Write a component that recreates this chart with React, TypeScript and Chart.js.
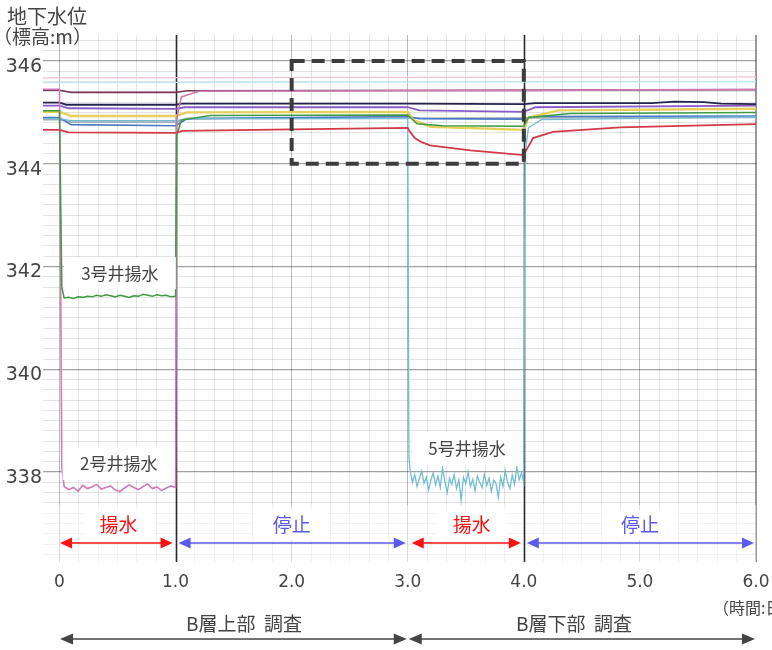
import React, { useEffect, useRef } from 'react';
import { Chart, registerables } from 'chart.js';

Chart.register(...registerables);

type Pt = [number, number];

// ---------- axis ticks ----------
const xTickValues = [0, 1, 2, 3, 4, 5, 6];
const xTickLabels = ['0', '1.0', '2.0', '3.0', '4.0', '5.0', '6.0'];
const yTickValues = [338, 340, 342, 344, 346];
const yTickLabels = ['338', '340', '342', '344', '346'];

// ---------- pumping periods (noisy records) ----------
const pumpTimesEarly = [0.04, 0.08, 0.12, 0.16, 0.2, 0.24, 0.28, 0.32, 0.36, 0.4, 0.44, 0.48, 0.52, 0.56, 0.6, 0.64, 0.68, 0.72, 0.76, 0.8, 0.84, 0.88, 0.92, 0.96, 1.0];
const well2PumpLevels = [337.72, 337.66, 337.7, 337.63, 337.74, 337.68, 337.71, 337.76, 337.67, 337.7, 337.73, 337.65, 337.62, 337.69, 337.75, 337.7, 337.66, 337.72, 337.77, 337.68, 337.71, 337.64, 337.69, 337.73, 337.7];
const well3PumpLevels = [341.39, 341.4, 341.38, 341.41, 341.4, 341.42, 341.41, 341.44, 341.42, 341.45, 341.43, 341.41, 341.44, 341.42, 341.4, 341.43, 341.42, 341.46, 341.44, 341.42, 341.45, 341.43, 341.44, 341.41, 341.42];
const pumpTimesLate = [3.02, 3.04, 3.06, 3.08, 3.1, 3.12, 3.14, 3.16, 3.18, 3.2, 3.22, 3.24, 3.26, 3.28, 3.3, 3.32, 3.34, 3.36, 3.38, 3.4, 3.42, 3.44, 3.46, 3.48, 3.5, 3.52, 3.54, 3.56, 3.58, 3.6, 3.62, 3.64, 3.66, 3.68, 3.7, 3.72, 3.74, 3.76, 3.78, 3.8, 3.82, 3.84, 3.86, 3.88, 3.9, 3.92, 3.94, 3.96, 3.98, 4.0];
const well5PumpLevels = [338.05, 337.8, 337.95, 337.72, 337.88, 338.02, 337.78, 337.9, 337.65, 337.85, 337.98, 337.75, 337.92, 337.7, 338.08, 337.82, 337.6, 337.88, 337.76, 337.95, 337.68, 337.85, 337.45, 337.9, 337.78, 338.0, 337.72, 337.86, 337.64, 337.92, 337.8, 337.7, 337.96, 337.74, 337.88, 337.62, 337.84, 337.78, 337.5, 337.9, 337.72, 338.02, 337.8, 337.68, 337.94, 337.76, 338.1, 337.85, 337.98, 337.8];

// ---------- well 2 (pink) ----------
const well2Before: Pt[] = [[-0.142, 345.45], [0.0, 345.45], [0.02, 338.1]];
const well2After: Pt[] = [[1.01, 344.9], [1.05, 345.3], [1.2, 345.41], [3.0, 345.42], [4.0, 345.42], [5.0, 345.44], [6.0, 345.45]];
// ---------- well 3 (green) ----------
const well3Before: Pt[] = [[-0.142, 345.03], [0.0, 345.03], [0.02, 341.6]];
const well3After: Pt[] = [[1.01, 344.55], [1.05, 344.85], [1.3, 344.94], [3.0, 344.95], [3.08, 344.78], [3.3, 344.74], [4.0, 344.73], [4.04, 344.9], [4.4, 344.98], [6.0, 345.0]];
// ---------- well 5 (cyan) ----------
const well5Before: Pt[] = [[-0.142, 344.88], [0.0, 344.88], [0.1, 344.84], [1.0, 344.84], [1.1, 344.88], [3.0, 344.88], [3.01, 338.3]];
const well5After: Pt[] = [[4.01, 344.2], [4.04, 344.7], [4.15, 344.86], [6.0, 344.91]];

// ---------- observation wells ----------
const redLine: Pt[] = [[-0.142, 344.66], [0, 344.66], [0.08, 344.61], [1.0, 344.6], [1.06, 344.64], [2.0, 344.67], [3.0, 344.7], [3.02, 344.62], [3.06, 344.5], [3.12, 344.42], [3.19, 344.36], [3.54, 344.26], [4.0, 344.17], [4.01, 344.22], [4.03, 344.3], [4.08, 344.5], [4.25, 344.62], [4.83, 344.71], [6.0, 344.77]];
const navyLine: Pt[] = [[-0.142, 345.19], [0, 345.19], [0.06, 345.15], [1.0, 345.15], [1.06, 345.17], [3.0, 345.17], [4.0, 345.16], [4.1, 345.18], [5.1, 345.18], [5.3, 345.21], [5.55, 345.2], [5.7, 345.17], [6.0, 345.16]];
const purpleLine: Pt[] = [[-0.142, 345.13], [0, 345.13], [0.08, 345.08], [1.0, 345.07], [1.08, 345.1], [3.0, 345.1], [3.1, 345.04], [4.0, 345.01], [4.1, 345.1], [6.0, 345.13]];
const yellowLine: Pt[] = [[-0.142, 345.01], [0, 345.01], [0.1, 344.93], [1.0, 344.93], [1.1, 345.0], [3.0, 345.01], [3.05, 344.85], [3.2, 344.72], [4.0, 344.66], [4.04, 344.9], [4.3, 345.04], [6.0, 345.07]];
const blueLine: Pt[] = [[-0.142, 344.9], [0, 344.9], [0.1, 344.76], [1.0, 344.74], [1.1, 344.88], [3.0, 344.92], [3.1, 344.88], [4.0, 344.87], [4.1, 344.92], [6.0, 344.93]];
const grayLine: Pt[] = [[-0.142, 344.86], [0, 344.86], [0.1, 344.81], [1.0, 344.81], [1.1, 344.88], [6.0, 344.9]];
const maroonLine: Pt[] = [[-0.142, 345.43], [0, 345.43], [0.1, 345.39], [1.0, 345.39], [1.1, 345.42], [6.0, 345.44]];
const faintPinkLine: Pt[] = [[-0.142, 345.67], [6.0, 345.69]];
const faintCyanLine: Pt[] = [[-0.142, 345.58], [6.0, 345.6]];

const toXY = (pts: Pt[]) => pts.map(([x, y]) => ({ x, y }));
const zipXY = (t: number[], v: number[]) => t.map((x, i) => ({ x, y: v[i] }));

const isInt = (v: number) => Math.abs(v - Math.round(v)) < 1e-9;

const JP = "'Noto Sans CJK JP', 'Noto Sans', sans-serif";
const TXT = '#444444';
const MARKER = '#2a2a2a';

function drawArrow(ctx: CanvasRenderingContext2D, x1: number, x2: number, y: number, color: string, head = 12, half = 5.5, lw = 1.6) {
  ctx.save();
  ctx.strokeStyle = color;
  ctx.fillStyle = color;
  ctx.lineWidth = lw;
  ctx.beginPath();
  ctx.moveTo(x1 + head - 1, y);
  ctx.lineTo(x2 - head + 1, y);
  ctx.stroke();
  ctx.beginPath();
  ctx.moveTo(x1, y);
  ctx.lineTo(x1 + head, y - half);
  ctx.lineTo(x1 + head, y + half);
  ctx.closePath();
  ctx.fill();
  ctx.beginPath();
  ctx.moveTo(x2, y);
  ctx.lineTo(x2 - head, y - half);
  ctx.lineTo(x2 - head, y + half);
  ctx.closePath();
  ctx.fill();
  ctx.restore();
}

function boxedText(ctx: CanvasRenderingContext2D, text: string, cx: number, cy: number, w: number, h: number, color: string, size: number) {
  ctx.save();
  ctx.fillStyle = '#ffffff';
  ctx.fillRect(cx - w / 2, cy - h / 2, w, h);
  ctx.fillStyle = color;
  ctx.font = `${size}px ${JP}`;
  ctx.textAlign = 'center';
  ctx.textBaseline = 'middle';
  ctx.fillText(text, cx, cy);
  ctx.restore();
}

function markerLines(chart: any, top: number) {
  const { ctx, chartArea: ca, scales } = chart;
  ctx.save();
  ctx.strokeStyle = MARKER;
  ctx.lineWidth = 1.6;
  [1, 4].forEach((v) => {
    const px = Math.round(scales.x.getPixelForValue(v)) + 0.5;
    ctx.beginPath();
    ctx.moveTo(px, top);
    ctx.lineTo(px, ca.bottom);
    ctx.stroke();
  });
  ctx.restore();
}

const overlayPlugin = {
  id: 'overlay',
  beforeDatasetsDraw(chart: any) {
    const { ctx, chartArea: ca, scales } = chart;
    const y = scales.y;
    const bandTop = y.getPixelForValue(337.36);
    ctx.save();
    ctx.fillStyle = 'rgba(255,255,255,0.5)';
    ctx.fillRect(ca.left, bandTop, ca.right - ca.left, ca.bottom - bandTop);
    ctx.restore();
    markerLines(chart, ca.top);
  },
  afterDatasetsDraw(chart: any) {
    const { ctx, chartArea: ca, scales } = chart;
    const x = scales.x;
    const y = scales.y;
    // dashed box
    ctx.save();
    ctx.strokeStyle = '#3c3c3c';
    ctx.lineWidth = 4;
    ctx.setLineDash([13, 7]);
    const bx1 = x.getPixelForValue(2);
    const bx2 = x.getPixelForValue(4);
    const by1 = y.getPixelForValue(346);
    const by2 = y.getPixelForValue(344);
    ctx.strokeRect(bx1, by1, bx2 - bx1, by2 - by1);
    ctx.restore();

    // well annotations
    boxedText(ctx, '3号井揚水', x.getPixelForValue(0.52), y.getPixelForValue(341.87), 112, 32, TXT, 17);
    boxedText(ctx, '2号井揚水', x.getPixelForValue(0.51), y.getPixelForValue(338.17), 112, 33, TXT, 17);
    boxedText(ctx, '5号井揚水', x.getPixelForValue(3.51), y.getPixelForValue(338.45), 110, 33, TXT, 17);

    // period arrows
    const red = '#ff1010';
    const blue = '#5a5af0';
    const ay = ca.bottom - 19;
    const ly = ca.bottom - 37;
    const p = (v: number) => x.getPixelForValue(v);
    boxedText(ctx, '揚水', (p(0) + p(1)) / 2 + 1, ly, 70, 30, red, 19);
    boxedText(ctx, '停止', (p(1) + p(3)) / 2, ly, 76, 30, blue, 19);
    boxedText(ctx, '揚水', (p(3) + p(4)) / 2 + 6, ly, 70, 30, red, 19);
    boxedText(ctx, '停止', (p(4) + p(6)) / 2, ly, 76, 30, blue, 19);
    drawArrow(ctx, p(0) + 0.5, p(1) - 3, ay, red);
    drawArrow(ctx, p(1) + 3, p(3) - 2, ay, blue);
    drawArrow(ctx, p(3) + 4, p(4) - 3, ay, red);
    drawArrow(ctx, p(4) + 3, p(6) - 2, ay, blue);
  },
  afterDraw(chart: any) {
    const { ctx, chartArea: ca, scales } = chart;
    const x = scales.x;
    const p = (v: number) => x.getPixelForValue(v);
    ctx.save();
    ctx.fillStyle = TXT;
    ctx.textBaseline = 'middle';
    ctx.textAlign = 'left';
    ctx.font = `20px ${JP}`;
    ctx.fillText('地下水位', 7, 16);
    ctx.font = `19px ${JP}`;
    ctx.fillText('（標高:m）', -7, 37);
    ctx.font = `16px ${JP}`;
    ctx.fillText('（時間:日）', p(6) - 43, ca.bottom + 46);
    ctx.font = `19px ${JP}`;
    ctx.textAlign = 'center';
    ctx.fillText('B層上部  調査', 244, ca.bottom + 62);
    ctx.fillText('B層下部  調査', 574, ca.bottom + 62);
    ctx.restore();
    drawArrow(ctx, p(0) + 0.5, p(3) - 1, ca.bottom + 77, '#444444', 13, 5.5, 1.4);
    drawArrow(ctx, p(3) + 1, p(6) - 1, ca.bottom + 77, '#444444', 13, 5.5, 1.4);
  },
};

export default function App() {
  const ref = useRef<HTMLCanvasElement | null>(null);

  useEffect(() => {
    document.body.style.margin = '0';
    const canvas = ref.current;
    if (!canvas) return;

    const line = (data: any[], color: string, width = 1.7) => ({
      data,
      borderColor: color,
      backgroundColor: color,
      borderWidth: width,
      pointRadius: 0,
      tension: 0,
      fill: false,
      clip: 0,
    });

    const chart = new Chart(canvas, {
      type: 'line',
      data: {
        datasets: [
          line(toXY(redLine), '#d23a48', 1.8),
          line([...toXY(well3Before), ...zipXY(pumpTimesEarly, well3PumpLevels), ...toXY(well3After)], '#3d9b42', 1.5),
          line([...toXY(well2Before), ...zipXY(pumpTimesEarly, well2PumpLevels), ...toXY(well2After)], '#d27ab8', 1.6),
          line([...toXY(well5Before), ...zipXY(pumpTimesLate, well5PumpLevels), ...toXY(well5After)], '#72bcd4', 1.3),
          line(toXY(navyLine), '#24244e', 1.9),
          line(toXY(purpleLine), '#8a5cc8', 1.8),
          line(toXY(yellowLine), '#e6cf5a', 2.4),
          line(toXY(blueLine), '#4a78c8', 1.7),
          line(toXY(grayLine), '#a4acb8', 1.7),
          line(toXY(maroonLine), '#7a3a5a', 1.6),
          line(toXY(faintPinkLine), '#f2c4d6', 1.3),
          line(toXY(faintCyanLine), '#bfe6f2', 1.3),
        ] as any,
      },
      options: {
        responsive: false,
        animation: false,
        events: [],
        layout: { padding: { top: 35, right: 16, bottom: 0, left: 0 } },
        plugins: { legend: { display: false }, tooltip: { enabled: false } },
        scales: {
          x: {
            type: 'linear',
            min: -0.142,
            max: 6,
            afterBuildTicks: (s: any) => {
              const t: any[] = [];
              for (let k = 0; k <= 36; k++) t.push({ value: k / 6 });
              s.ticks = t;
            },
            afterFit: (s: any) => {
              s.height = 88;
              s.paddingLeft = 0;
              s.paddingRight = 0;
            },
            border: { display: false },
            grid: {
              drawTicks: false,
              color: (c: any) => {
                const v = c.tick ? c.tick.value : 0;
                if (isInt(v)) {
                  const r = Math.round(v);
                  if (r === 1 || r === 4) return 'rgba(0,0,0,0)';
                  if (r === 6) return 'rgba(0,0,0,0.4)';
                  return 'rgba(0,0,0,0.27)';
                }
                return 'rgba(0,0,0,0.105)';
              },
              lineWidth: (c: any) => {
                const v = c.tick ? c.tick.value : 0;
                if (isInt(v) && Math.round(v) === 6) return 2;
                return 1;
              },
            },
            ticks: {
              autoSkip: false,
              maxRotation: 0,
              minRotation: 0,
              padding: 10,
              color: TXT,
              font: { family: "'DejaVu Sans', sans-serif", size: 17 },
              callback: (v: any) => {
                const n = Number(v);
                if (!isInt(n)) return '';
                const i = xTickValues.indexOf(Math.round(n));
                return i >= 0 ? xTickLabels[i] : '';
              },
            },
          },
          y: {
            type: 'linear',
            min: 336.25,
            max: 346.506,
            afterBuildTicks: (s: any) => {
              const t: any[] = [];
              for (let k = 0; k <= 50; k++) t.push({ value: Math.round((336.4 + k * 0.2) * 10) / 10 });
              s.ticks = t;
            },
            afterFit: (s: any) => {
              s.width = 43;
              s.paddingTop = 0;
              s.paddingBottom = 0;
            },
            border: { display: false },
            grid: {
              drawTicks: false,
              color: (c: any) => {
                const v = c.tick ? c.tick.value : 0;
                return isInt(v) && Math.round(v) % 2 === 0 ? 'rgba(0,0,0,0.36)' : 'rgba(0,0,0,0.105)';
              },
              lineWidth: (c: any) => {
                const v = c.tick ? c.tick.value : 0;
                return isInt(v) && Math.round(v) % 2 === 0 ? 1.3 : 1;
              },
            },
            ticks: {
              autoSkip: false,
              padding: 1,
              labelOffset: 6,
              color: TXT,
              font: { family: "'DejaVu Sans', sans-serif", size: 19 },
              callback: (v: any) => {
                const n = Math.round(Number(v) * 10) / 10;
                const i = yTickValues.indexOf(n);
                return i >= 0 ? yTickLabels[i] : '';
              },
            },
          },
        },
      } as any,
      plugins: [overlayPlugin as any],
    });

    return () => chart.destroy();
  }, []);

  return <canvas ref={ref} width={772} height={650} style={{ display: 'block' }} />;
}
